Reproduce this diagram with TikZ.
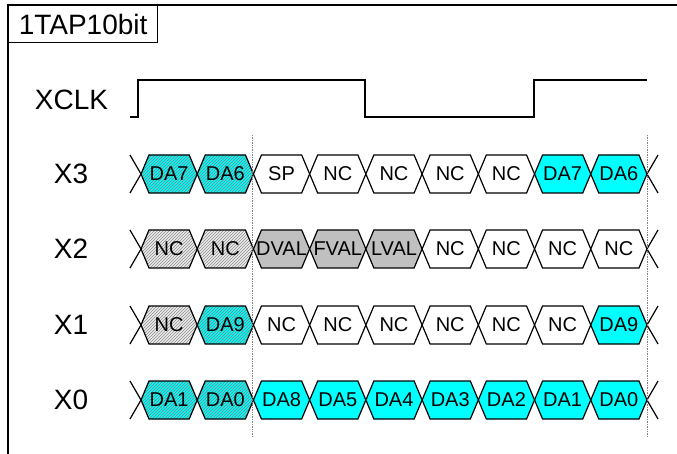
\documentclass[tikz,border=0pt]{standalone}
\usepackage{fontspec}
\setmainfont{Liberation Sans}
\usetikzlibrary{patterns}

\definecolor{sigcyan}{RGB}{0,255,255}
\definecolor{siggray}{RGB}{192,192,192}
\definecolor{siglight}{RGB}{236,236,236}

\begin{document}
\begin{tikzpicture}
[
    x=1pt, y=-1pt,
    frame/.style={line width=2pt},
    wave/.style={line width=1.3pt},
    cellwhite/.style={draw, line width=1.2pt, fill=white},
    cellcyan/.style={draw, line width=1.2pt, fill=sigcyan},
    cellgray/.style={draw, line width=1.2pt, fill=siggray},
    cellcyanhatch/.style={draw, line width=1.2pt, preaction={fill=sigcyan}, pattern=north east lines, pattern color=black!50},
    cellgrayhatch/.style={draw, line width=1.2pt, preaction={fill=siglight}, pattern=north east lines, pattern color=black!45},
    celltext/.style={font=\fontsize{20}{22}\selectfont, inner sep=0pt},
    rowlabel/.style={font=\fontsize{28}{30}\selectfont, inner sep=0pt},
    marker/.style={densely dotted, gray, line width=0.7pt},
]
\useasboundingbox (0,0) rectangle (677,454);

% frame and title
\draw[frame] (8,460) -- (8,5) -- (680,5);
\node[rowlabel, draw, line width=1.2pt, minimum width=149pt, minimum height=37pt, anchor=north west] (title) at (8,5) {1TAP10bit};

% clock
\node[rowlabel] (lblXCLK) at (71.5,100) {XCLK};
\draw[wave] (130,117) -- (138,117) -- (138,80) -- (365,80) -- (365,117) -- (534,117) -- (534,80) -- (647,80);

% data lanes
\foreach \row/\yc/\cells in {
    X3/174/{cyanhatch/DA7,cyanhatch/DA6,white/SP,white/NC,white/NC,white/NC,white/NC,cyan/DA7,cyan/DA6},
    X2/249/{grayhatch/NC,grayhatch/NC,gray/DVAL,gray/FVAL,gray/LVAL,white/NC,white/NC,white/NC,white/NC},
    X1/325/{grayhatch/NC,cyanhatch/DA9,white/NC,white/NC,white/NC,white/NC,white/NC,white/NC,cyan/DA9},
    X0/400/{cyanhatch/DA1,cyanhatch/DA0,cyan/DA8,cyan/DA5,cyan/DA4,cyan/DA3,cyan/DA2,cyan/DA1,cyan/DA0}%
}{
    \node[rowlabel] (lbl\row) at (71,\yc) {\row};
    \foreach \sty/\txt [count=\i] in \cells {
        \pgfmathsetmacro\xa{141+56.22*(\i-1)}
        \pgfmathsetmacro\xb{\xa+56.22}
        \draw[cell\sty] (\xa,\yc) -- (\xa+8,\yc-19) -- (\xb-8,\yc-19) -- (\xb,\yc)
            -- (\xb-8,\yc+19) -- (\xa+8,\yc+19) -- cycle;
        \node[celltext] (\row c\i) at ({(\xa+\xb)/2},\yc) {\txt};
    }
    \draw[line width=1.2pt] (130,\yc-19) -- (141,\yc) -- (130,\yc+19);
    \draw[line width=1.2pt] (658,\yc-19) -- (647,\yc) -- (658,\yc+19);
}

% frame markers
\coordinate (mkAtop) at (252,135);
\coordinate (mkAbot) at (252,437);
\coordinate (mkBtop) at (647,135);
\coordinate (mkBbot) at (647,437);
\draw[marker] (mkAtop) -- (mkAbot);
\draw[marker] (mkBtop) -- (mkBbot);
\end{tikzpicture}
\end{document}
